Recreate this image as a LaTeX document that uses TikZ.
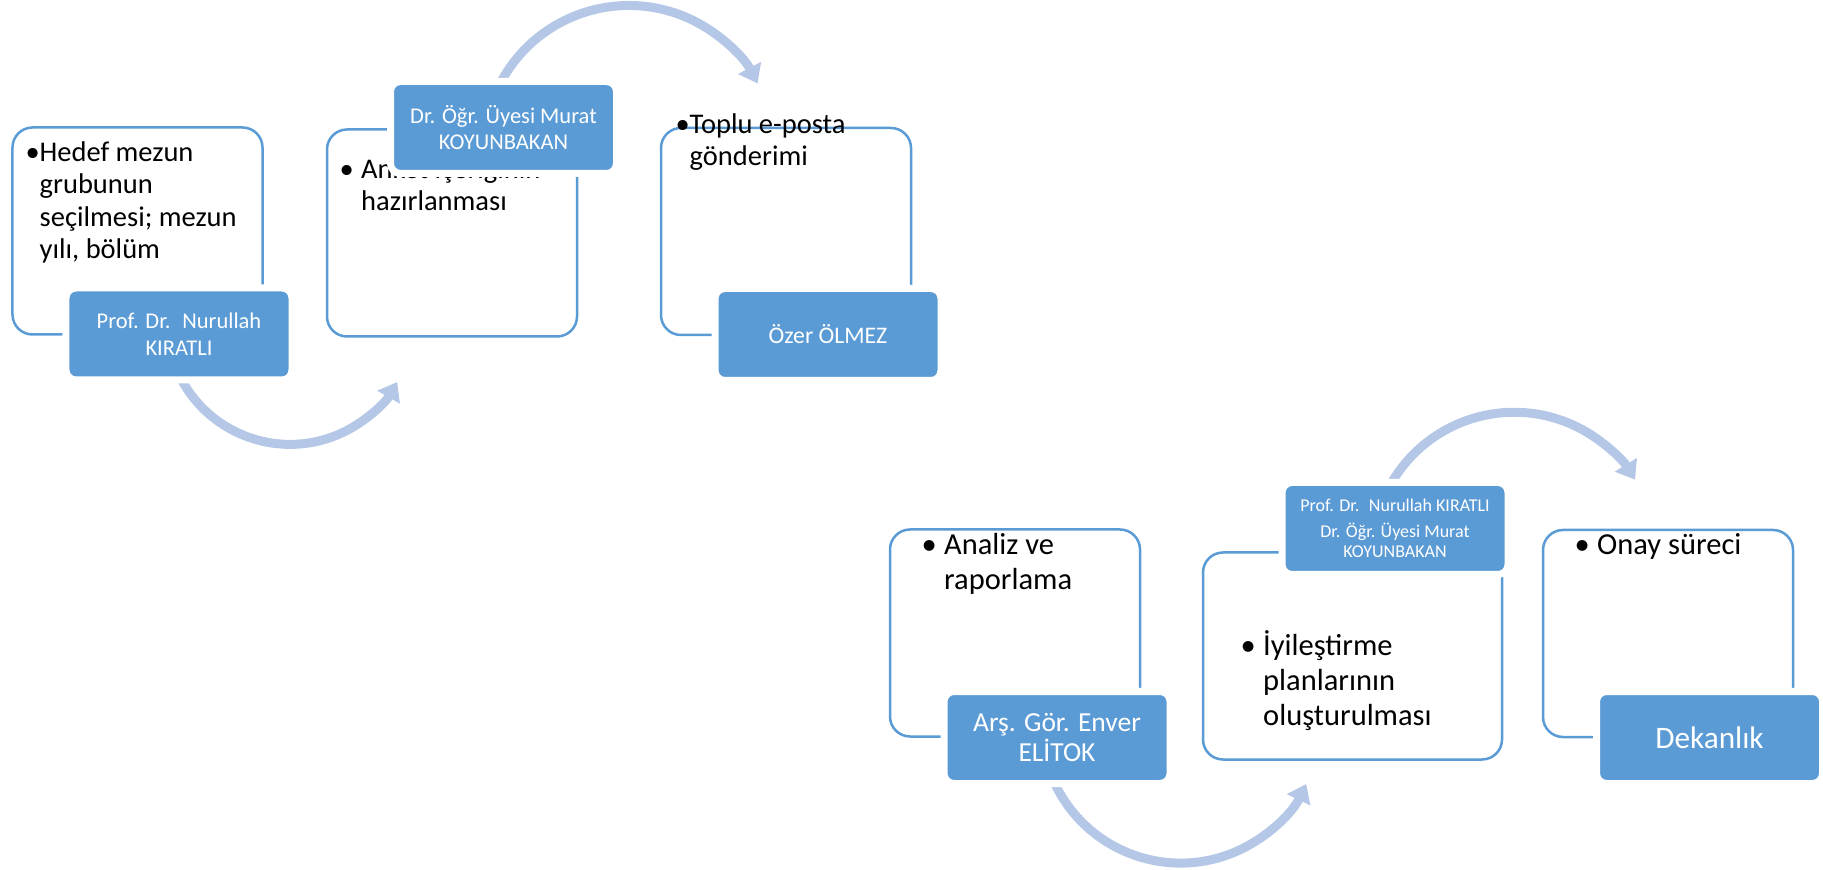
\documentclass[tikz,border=0pt]{standalone}
\usepackage{fontspec}
\setmainfont{Carlito}
\usepackage{tikz}
\usetikzlibrary{arrows.meta,backgrounds}

\definecolor{cardblue}{RGB}{91,155,213}
\definecolor{flowblue}{RGB}{180,199,231}

% bullet with the following lines hung under the text
\newcommand{\pts}[2]{\begin{tabular}[t]{@{}l@{\hspace{#1}}l@{}}\textbullet & #2\end{tabular}}

\begin{document}
\begin{tikzpicture}[x=0.4pt, y=-0.4pt,
        stage/.style={draw=cardblue, line width=1pt, fill=white, rounded corners=8pt,
                minimum width=100pt, minimum height=82.8pt, inner sep=0pt},
        who/.style={fill=cardblue, draw=white, line width=2.8pt, rounded corners=4pt,
                text=white, align=center, minimum width=90.4pt, minimum height=36.8pt,
                inner sep=0pt, font=\fontsize{9}{10.7}\selectfont},
        say/.style={anchor=base west, inner sep=0pt, font=\fontsize{11.4}{12.9}\selectfont},
        sayb/.style={say, font=\fontsize{12.2}{14}\selectfont},
        flow/.style={draw=flowblue, line width=3.6pt, -{Triangle[width=10pt, length=7pt]}}]
        \useasboundingbox (0,0) rectangle (1823,870);

        % cards
        \foreach \n/\x/\y in {A1/137.5/231, A2/452/233, A3/786/231.5, B1/1015/633, B3/1668/633.5}
                \node[stage] (\n) at (\x,\y) {};
        \node[stage, minimum width=119.6pt] (B2) at (1352.5,656) {};

        \node[say] (tA1) at (25,161.7) {\pts{0pt}{Hedef mezun\\ & grubunun\\ & seçilmesi; mezun\\ & yılı, bölüm}};
        \node[say] (tA2) at (339,178.3) {\pts{3pt}{Anket içeriğinin\\ & hazırlanması}};
        \node[say] (tA3) at (675,133.3) {\pts{0pt}{Toplu e-posta\\ & gönderimi}};
        \node[sayb] (tB1) at (921,555) {\pts{3pt}{Analiz ve\\ & raporlama}};
        \node[sayb] (tB2) at (1240,655) {\pts{3pt}{İyileştirme\\ & planlarının\\ & oluşturulması}};
        \node[sayb] (tB3) at (1574,555) {\pts{3pt}{Onay süreci}};

        % people
        \node[who] (L1) at (179,334) {Prof. Dr.~ Nurullah\\KIRATLI};
        \node[who] (L2) at (503.5,127.5) {Dr. Öğr. Üyesi Murat\\KOYUNBAKAN};
        \node[who, font=\fontsize{9.5}{11}\selectfont] (L3) at (828,334.5) {Özer ÖLMEZ};
        \node[who, font=\fontsize{11}{12}\selectfont] (M1) at (1057,737.5) {Arş. Gör. Enver\\ELİTOK};
        \node[who, font=\fontsize{7.2}{8}\selectfont] (M2) at (1395,528.5)
                {Prof. Dr.~ Nurullah KIRATLI\\[2.6pt]Dr. Öğr. Üyesi Murat\\KOYUNBAKAN};
        \node[who, font=\fontsize{12.5}{14}\selectfont] (M3) at (1709.5,737.5) {Dekanlık};

        % arrows between the cards, behind the people
        \begin{scope}[on background layer]
        \draw[flow] ([shift={(3,-3)}]L1.south) arc[start angle=208.8, end angle=330.4, radius=49.3pt];
        \draw[flow] ([shift={(-2,3)}]L2.north) arc[start angle=151.3, end angle=27.6, radius=58.1pt];
        \draw[flow] ([shift={(-2,-3)}]M1.south) arc[start angle=205.6, end angle=334.4, radius=55.7pt];
        \draw[flow] ([shift={(-3,3)}]M2.north) arc[start angle=149.4, end angle=31.7, radius=56.8pt];
        \end{scope}
\end{tikzpicture}
\end{document}
